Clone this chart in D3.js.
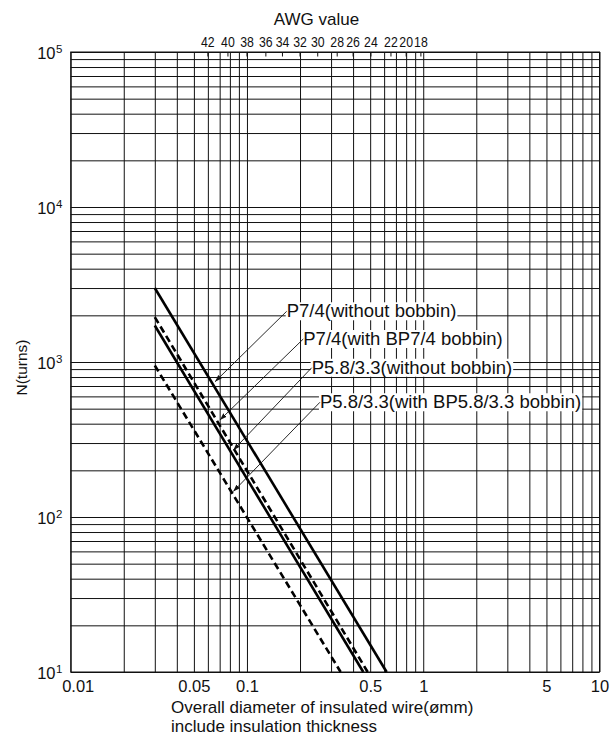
<!DOCTYPE html>
<html><head><meta charset="utf-8">
<script src="https://cdn.jsdelivr.net/npm/d3@7"></script>
<style>
body{margin:0;background:#fff;}
svg{display:block;font-family:"Liberation Sans",Arial,Helvetica,sans-serif;}
</style>
</head><body>
<svg id="chart" width="611" height="738"></svg>
<script>
// ---- data ----
const seriesNames = ["P7/4(without bobbin)", "P7/4(with BP7/4 bobbin)", "P5.8/3.3(without bobbin)", "P5.8/3.3(with BP5.8/3.3 bobbin)"];
const seriesDiam  = [[0.03, 0.62], [0.03, 0.484], [0.03, 0.457], [0.03, 0.34]];
const seriesTurns = [[3000, 10], [1950, 10], [1720, 10], [950, 10]];
const seriesDashed = [false, true, false, true];

// annotation anchors (data space)
const labelD = [0.168, 0.2086, 0.2328, 0.2594];
const labelN = [1943, 1287, 840, 503];
const tipD = [0.0659, 0.0703, 0.0836, 0.0836];
const tipN = [746, 423, 270, 146];

const xTickValues = [0.01, 0.05, 0.1, 0.5, 1, 5, 10];
const xTickLabels = ["0.01", "0.05", "0.1", "0.5", "1", "5", "10"];
const yTickExponents = [1, 2, 3, 4, 5];

const awgLabels = ["42", "40", "38", "36", "34", "32", "30", "28", "26", "24", "22", "20", "18"];
const awgDiam = [0.06, 0.078, 0.1, 0.128, 0.159, 0.2, 0.252, 0.325, 0.4, 0.505, 0.656, 0.8, 0.97];

// ---- layout ----
const L = 70.7, R = 599.5, T = 52, B = 672;
const svg = d3.select("#chart");
const x = d3.scaleLog().domain([0.01, 10]).range([L, R]);
const y = d3.scaleLog().domain([10, 1e5]).range([B, T]);

// grid
const gx = svg.append("g").attr("transform", `translate(0,${B})`)
  .call(d3.axisBottom(x).tickValues(x.ticks()).tickSize(-(B - T)).tickFormat(""));
gx.select(".domain").remove();
gx.selectAll("line").attr("stroke", "#111").attr("stroke-width", 1);

const gy = svg.append("g").attr("transform", `translate(${L},0)`)
  .call(d3.axisLeft(y).tickValues(y.ticks()).tickSize(-(R - L)).tickFormat(""));
gy.select(".domain").remove();
gy.selectAll("line").attr("stroke", "#111").attr("stroke-width", 1);

// border
svg.append("rect").attr("x", L).attr("y", T).attr("width", R - L).attr("height", B - T)
  .attr("fill", "none").attr("stroke", "#111").attr("stroke-width", 1);

// AWG ticks on top
svg.append("g").selectAll("line").data(awgDiam).join("line")
  .attr("x1", d => x(d)).attr("x2", d => x(d))
  .attr("y1", T).attr("y2", T + 4.5)
  .attr("stroke", "#111").attr("stroke-width", 1);

svg.append("g").selectAll("text").data(awgLabels).join("text")
  .attr("transform", (d, i) => `translate(${x(awgDiam[i])},46.7) scale(0.82,1)`)
  .attr("text-anchor", "middle").attr("font-size", 15).attr("fill", "#111")
  .text(d => d);

svg.append("text").attr("x", 316.5).attr("y", 24.5).attr("text-anchor", "middle")
  .attr("font-size", 17).attr("fill", "#111").text("AWG value");

// x tick labels
const xa = svg.append("g").attr("transform", `translate(0,${B})`)
  .call(d3.axisBottom(x).tickValues(xTickValues).tickSize(0).tickPadding(0)
    .tickFormat((d, i) => xTickLabels[i]));
xa.select(".domain").remove();
xa.selectAll("text").attr("font-size", 16.5).attr("fill", "#111")
  .attr("font-family", "Liberation Sans, Arial, sans-serif")
  .attr("dy", null).attr("y", 20)
  .attr("dx", (d, i) => i === 0 ? 7 : 0);

// y tick labels with superscripts
const yl = svg.append("g").selectAll("g").data(yTickExponents).join("g");
yl.append("text").attr("x", 55.5).attr("y", d => y(Math.pow(10, d)) + 6.6)
  .attr("text-anchor", "end").attr("font-size", 16.5).attr("fill", "#111").text("10");
yl.append("text").attr("x", 56).attr("y", d => y(Math.pow(10, d)) + 1.4)
  .attr("font-size", 11.5).attr("fill", "#111").text(d => d);

// axis titles
svg.append("text").attr("transform", "translate(27,367.5) rotate(-90)")
  .attr("text-anchor", "middle").attr("font-size", 15.5).attr("fill", "#111").text("N(turns)");
svg.append("text").attr("x", 171).attr("y", 712.5).attr("font-size", 17).attr("fill", "#111")
  .text("Overall diameter of insulated wire(ømm)");
svg.append("text").attr("x", 171).attr("y", 732).attr("font-size", 17).attr("fill", "#111")
  .text("include insulation thickness");

// series
const line = d3.line().x(d => x(d[0])).y(d => y(d[1]));
seriesNames.forEach((name, i) => {
  const pts = seriesDiam[i].map((d, j) => [d, seriesTurns[i][j]]);
  svg.append("path").datum(pts).attr("d", line)
    .attr("fill", "none").attr("stroke", "#000").attr("stroke-width", 2.6)
    .attr("stroke-dasharray", seriesDashed[i] ? "7,4" : null);
});

// arrow marker
svg.append("defs").append("marker").attr("id", "arr")
  .attr("viewBox", "0 0 10 10").attr("refX", 10).attr("refY", 5)
  .attr("markerWidth", 7).attr("markerHeight", 7).attr("markerUnits", "userSpaceOnUse")
  .attr("orient", "auto")
  .append("path").attr("d", "M0,1.5 L10,5 L0,8.5 z").attr("fill", "#111");

// labels
seriesNames.forEach((name, i) => {
  const lx = x(labelD[i]), ly = y(labelN[i]);
  const g = svg.append("g");
  const bg = g.append("rect").attr("fill", "#fff");
  const t = g.append("text").attr("x", lx).attr("y", ly).attr("font-size", 18.5).attr("fill", "#111").text(name);
  const w = t.node().getComputedTextLength();
  bg.attr("x", lx - 1).attr("y", ly - 15).attr("width", w + 2).attr("height", 18);
  svg.append("line").attr("x1", lx).attr("y1", ly - 6)
    .attr("x2", x(tipD[i])).attr("y2", y(tipN[i]))
    .attr("stroke", "#111").attr("stroke-width", 0.9).attr("marker-end", "url(#arr)");
});
</script>
</body></html>
